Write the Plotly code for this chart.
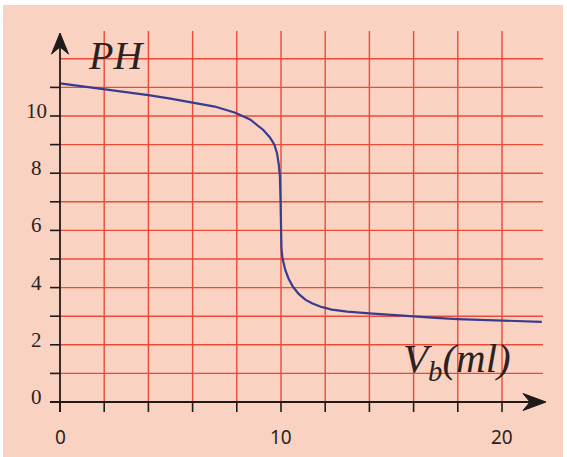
import plotly.graph_objects as go

# Titration curve: pH against added volume V_b (ml)
vb = [0, 1, 2, 3, 4, 5, 6, 7, 7.9, 8.6, 9.2, 9.5, 9.7, 9.82, 9.9, 9.95, 9.98,
      10.0, 10.02, 10.06, 10.12, 10.2, 10.35, 10.55, 10.8, 11.1, 11.4, 11.8,
      12.3, 13.0, 14.0, 15.0, 16.0, 17.0, 18.0, 19.0, 20.0, 21.0, 21.8]
ph = [11.14, 11.04, 10.94, 10.84, 10.73, 10.61, 10.48, 10.33, 10.12, 9.88,
      9.51, 9.25, 9.0, 8.7, 8.3, 7.9, 7.0, 6.0, 5.4, 5.05, 4.85, 4.6, 4.3,
      4.02, 3.78, 3.58, 3.45, 3.33, 3.23, 3.16, 3.10, 3.04, 2.98, 2.94, 2.90,
      2.87, 2.84, 2.82, 2.80]

x_ticks = [0, 2, 4, 6, 8, 10, 12, 14, 16, 18, 20]
x_labels = [0, 10, 20]
y_ticks = [0, 1, 2, 3, 4, 5, 6, 7, 8, 9, 10, 11]
y_labels = [0, 2, 4, 6, 8, 10]
x_grid = [2, 4, 6, 8, 10, 12, 14, 16, 18, 20]
y_grid = [1, 2, 3, 4, 5, 6, 7, 8, 9, 10, 11, 12]

W, H = 567, 457
OX, OY = 60, 402          # pixel position of the origin
SX, SY = 22.1, 28.6       # pixels per unit on each axis


def ux(px):
    return (px - OX) / SX


def uy(py):
    return (OY - py) / SY


GRID = "#EA4A36"
AXIS = "#1E1A1A"
INK = "#2A2222"

x_top = uy(31)            # top end of the vertical grid lines
x_right = ux(543)         # right end of the horizontal grid lines

shapes = []
# paper background
shapes.append(dict(type="rect", xref="x", yref="y", x0=ux(3), x1=ux(563),
                   y0=uy(5), y1=uy(H + 5), fillcolor="#FAD2C1",
                   line=dict(width=0), layer="below"))
for gx in x_grid:
    shapes.append(dict(type="line", xref="x", yref="y", x0=gx, x1=gx,
                       y0=0, y1=x_top, line=dict(color=GRID, width=1.4),
                       layer="below"))
for gy in y_grid:
    shapes.append(dict(type="line", xref="x", yref="y", x0=0, x1=x_right,
                       y0=gy, y1=gy, line=dict(color=GRID, width=1.4),
                       layer="below"))
# tick marks
for tx in x_ticks:
    shapes.append(dict(type="line", xref="x", yref="y", x0=tx, x1=tx,
                       y0=0, y1=-10 / SY, line=dict(color=AXIS, width=1.6)))
for ty in y_ticks:
    shapes.append(dict(type="line", xref="x", yref="y", x0=-10 / SX, x1=0,
                       y0=ty, y1=ty, line=dict(color=AXIS, width=1.6)))
# axis lines
shapes.append(dict(type="line", xref="x", yref="y", x0=0, x1=0,
                   y0=-10 / SY, y1=uy(40), line=dict(color=AXIS, width=1.8)))
shapes.append(dict(type="line", xref="x", yref="y", x0=-10 / SX, x1=ux(535),
                   y0=0, y1=0, line=dict(color=AXIS, width=1.8)))
# arrow heads
tip = uy(33)
base = uy(54)
notch = uy(47)
hw = 8.5 / SX
shapes.append(dict(type="path", xref="x", yref="y",
                   path=f"M0,{tip} L{-hw},{base} L0,{notch} L{hw},{base} Z",
                   fillcolor=AXIS, line=dict(color=AXIS, width=1)))
tipx = ux(546)
basex = ux(523)
notchx = ux(530)
hh = 8.5 / SY
shapes.append(dict(type="path", xref="x", yref="y",
                   path=f"M{tipx},0 L{basex},{hh} L{notchx},0 L{basex},{-hh} Z",
                   fillcolor=AXIS, line=dict(color=AXIS, width=1)))

annotations = []
for v in y_labels:
    annotations.append(dict(x=ux(36), y=v + 5 / SY, text=str(v), showarrow=False,
                            xanchor="center", yanchor="middle",
                            font=dict(family="Liberation Serif", size=21, color=INK)))
for v in x_labels:
    annotations.append(dict(x=v, y=uy(437), text=str(v), showarrow=False,
                            xanchor="center", yanchor="middle",
                            font=dict(family="Noto Sans", size=19, color=INK)))
annotations.append(dict(x=ux(86), y=uy(55), text="<i>PH</i>", showarrow=False,
                        xanchor="left", yanchor="middle",
                        font=dict(family="Liberation Serif", size=40, color=INK)))
annotations.append(dict(x=ux(401), y=uy(361), text="<i>V<sub>b</sub>(ml)</i>",
                        showarrow=False, xanchor="left", yanchor="middle",
                        font=dict(family="Liberation Serif", size=41, color=INK)))

fig = go.Figure()
fig.add_trace(go.Scatter(x=vb, y=ph, mode="lines",
                         line=dict(color="#383B8E", width=2.2),
                         hoverinfo="skip", showlegend=False))

fig.update_layout(
    width=W, height=H,
    margin=dict(l=0, r=0, t=0, b=0),
    paper_bgcolor="white", plot_bgcolor="white",
    xaxis=dict(range=[ux(0), ux(W)], visible=False, fixedrange=True),
    yaxis=dict(range=[uy(H), uy(0)], visible=False, fixedrange=True),
    shapes=shapes, annotations=annotations,
    showlegend=False,
)

fig.write_html("out.html", config={"displayModeBar": False})
